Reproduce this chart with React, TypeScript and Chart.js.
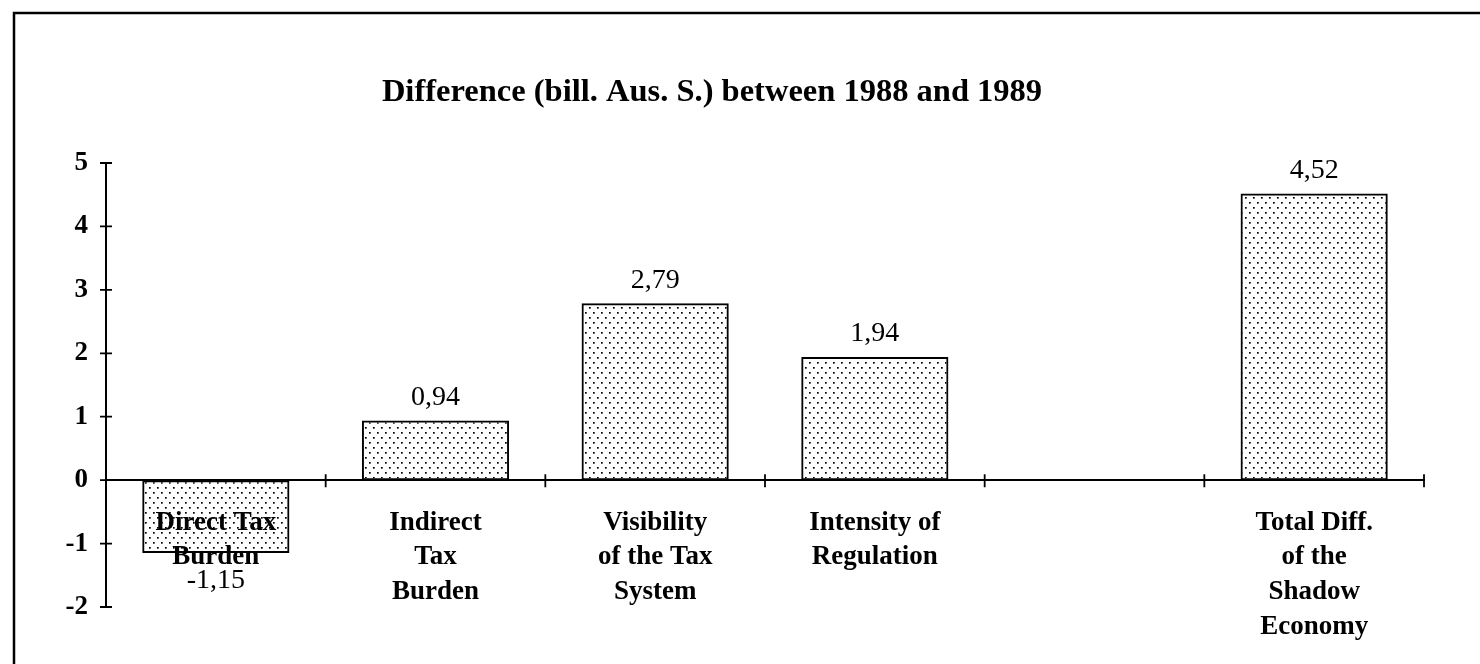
import React, { useEffect, useRef } from "react";
import { Chart, registerables } from "chart.js";

Chart.register(...registerables);

const titleText = "Difference (bill. Aus. S.) between 1988 and 1989";
const categories: string[][] = [
  ["Direct Tax", "Burden"],
  ["Indirect", "Tax", "Burden"],
  ["Visibility", "of the Tax", "System"],
  ["Intensity of", "Regulation"],
  [""],
  ["Total Diff.", "of the", "Shadow", "Economy"],
];
const values: (number | null)[] = [-1.15, 0.94, 2.79, 1.94, null, 4.52];
const yTicks: number[] = [-2, -1, 0, 1, 2, 3, 4, 5];

const FONT = '"Liberation Serif", "Times New Roman", Times, serif';

function makePattern(): CanvasPattern | string {
  const c = document.createElement("canvas");
  c.width = 8;
  c.height = 10;
  const g = c.getContext("2d");
  if (!g) return "rgba(0,0,0,0.15)";
  g.clearRect(0, 0, 8, 10);
  g.fillStyle = "#000";
  g.fillRect(1, 2, 1.7, 1.7);
  g.fillRect(5, 7, 1.7, 1.7);
  const p = g.createPattern(c, "repeat");
  return p || "rgba(0,0,0,0.15)";
}

const fmt = (v: number) => v.toFixed(2).replace(".", ",");

export default function App() {
  const ref = useRef<HTMLCanvasElement | null>(null);

  useEffect(() => {
    const canvas = ref.current;
    if (!canvas) return;

    const decor = {
      id: "decor",
      beforeDraw(chart: any) {
        const ctx = chart.ctx;
        ctx.save();
        ctx.fillStyle = "#fff";
        ctx.fillRect(0, 0, chart.width, chart.height);
        ctx.strokeStyle = "#000";
        ctx.lineWidth = 2.5;
        ctx.beginPath();
        ctx.moveTo(14, chart.height);
        ctx.lineTo(14, 13);
        ctx.lineTo(chart.width, 13);
        ctx.stroke();
        ctx.restore();
      },
      afterDraw(chart: any) {
        const ctx = chart.ctx;
        const ys = chart.scales.y;
        const area = chart.chartArea;
        const y0 = ys.getPixelForValue(0);
        ctx.save();
        ctx.strokeStyle = "#000";
        ctx.lineWidth = 1.8;
        ctx.beginPath();
        yTicks.forEach((t) => {
          const py = ys.getPixelForValue(t);
          ctx.moveTo(area.left - 6, py);
          ctx.lineTo(area.left + 6, py);
        });
        const n = categories.length;
        const w = (area.right - area.left) / n;
        for (let i = 1; i <= n; i++) {
          const px = area.left + i * w;
          ctx.moveTo(px, y0 - 6);
          ctx.lineTo(px, y0 + 7);
        }
        ctx.stroke();

        ctx.fillStyle = "#000";
        ctx.font = `28px ${FONT}`;
        ctx.textAlign = "center";
        ctx.textBaseline = "middle";
        const meta = chart.getDatasetMeta(0);
        meta.data.forEach((bar: any, i: number) => {
          const v = values[i];
          if (v === null || v === undefined) return;
          const yy = v >= 0 ? bar.y - 23 : bar.y + 28;
          ctx.fillText(fmt(v), bar.x, yy);
        });
        ctx.restore();
      },
    };

    const chart = new Chart(canvas, {
      type: "bar",
      data: {
        labels: categories as any,
        datasets: [
          {
            data: values as any,
            backgroundColor: makePattern() as any,
            borderColor: "#000",
            borderWidth: 2,
            borderSkipped: false,
            barPercentage: 0.67,
            categoryPercentage: 1,
          },
        ],
      },
      options: {
        animation: false,
        responsive: false,
        maintainAspectRatio: false,
        layout: { padding: { left: 0, right: 56, top: 0, bottom: 57 } },
        plugins: {
          legend: { display: false },
          tooltip: { enabled: false },
          title: {
            display: true,
            text: titleText,
            color: "#000",
            font: { family: FONT, size: 32.5, weight: "bold" },
            padding: { top: 73, bottom: 51 },
          },
        },
        scales: {
          x: {
            position: { y: 0 } as any,
            z: 1,
            grid: { display: false },
            border: { display: true, color: "#000", width: 2 },
            ticks: {
              color: "#000",
              padding: 17,
              autoSkip: false,
              maxRotation: 0,
              font: { family: FONT, size: 27, weight: "bold", lineHeight: 1.29 },
            },
          },
          y: {
            min: -2,
            max: 5,
            afterFit: (s: any) => {
              s.width = 106;
            },
            grid: { display: false },
            border: { display: true, color: "#000", width: 2 },
            ticks: {
              stepSize: 1,
              color: "#000",
              padding: 10,
              font: { family: FONT, size: 27, weight: "bold" },
            },
          },
        },
      },
      plugins: [decor],
    });

    return () => chart.destroy();
  }, []);

  return (
    <div style={{ position: "fixed", left: 0, top: 0, width: 1480, height: 664, background: "#fff" }}>
      <canvas ref={ref} width={1480} height={664} style={{ display: "block" }} />
    </div>
  );
}
